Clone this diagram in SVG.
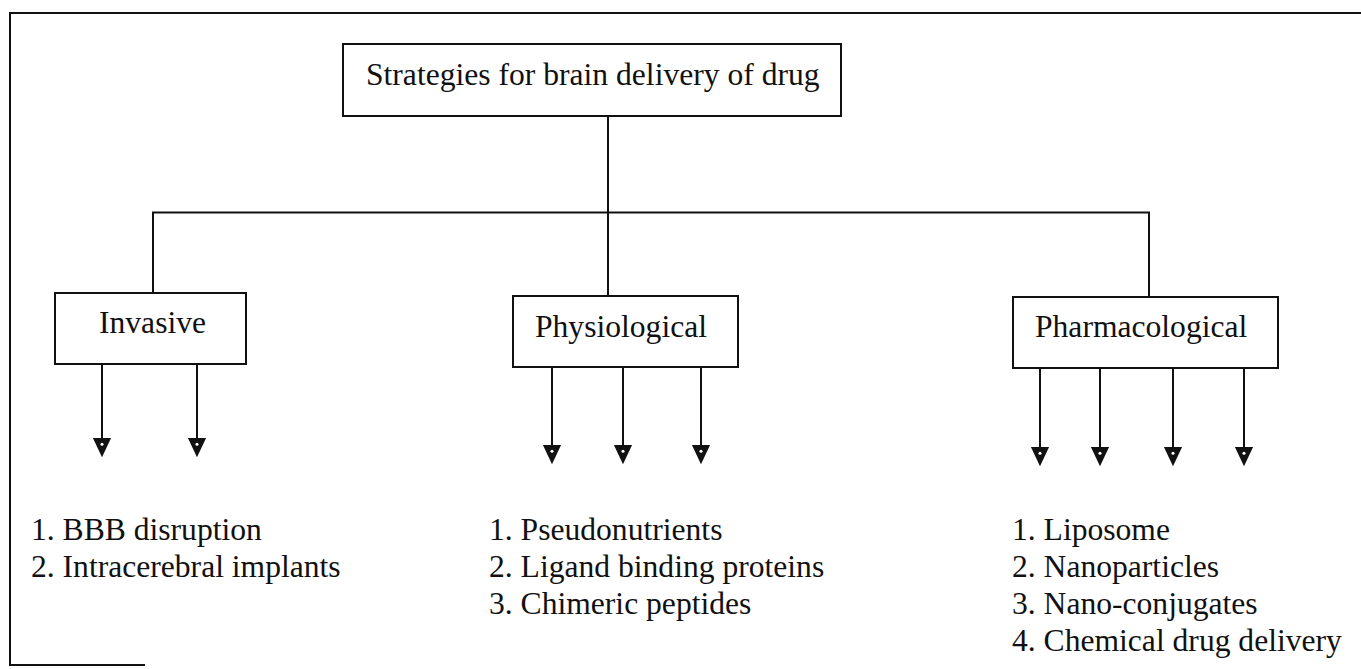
<svg xmlns="http://www.w3.org/2000/svg" width="1361" height="669" viewBox="0 0 1361 669">
<style>
  .frame{fill:none;stroke:#111;stroke-width:2}
  .box{fill:#fff;stroke:#111;stroke-width:2}
  .ln{fill:none;stroke:#111;stroke-width:2}
  .t{font-family:"Liberation Serif","Times New Roman",serif;font-size:31.6px;fill:#111}
</style>
<defs>
  <marker id="arr" markerUnits="userSpaceOnUse" markerWidth="22" markerHeight="22" refX="0" refY="0" viewBox="-1 -11 23 22" orient="auto" overflow="visible">
    <path d="M0,-9.5 L20,0 L0,9.5 Z" fill="#111"/>
    <circle cx="6.5" cy="0" r="1.6" fill="#fff"/>
  </marker>
</defs>
<rect x="0" y="0" width="1361" height="669" fill="#fff"/>
<g id="frame">
  <path class="frame" d="M1361,13 L10,13 L10,665 L145,665"/>
</g>
<g id="connectors">
  <path class="ln" d="M608,116 L608,212.5"/>
  <path class="ln" d="M153,293 L153,212.5 L1149,212.5 L1149,297"/>
  <path class="ln" d="M608,212.5 L608,296"/>
  <path class="ln" marker-end="url(#arr)" d="M102,364 L102,438"/>
  <path class="ln" marker-end="url(#arr)" d="M197,364 L197,438"/>
  <path class="ln" marker-end="url(#arr)" d="M552,367 L552,445"/>
  <path class="ln" marker-end="url(#arr)" d="M623,367 L623,445"/>
  <path class="ln" marker-end="url(#arr)" d="M701,367 L701,445"/>
  <path class="ln" marker-end="url(#arr)" d="M1040,368 L1040,447"/>
  <path class="ln" marker-end="url(#arr)" d="M1100,368 L1100,447"/>
  <path class="ln" marker-end="url(#arr)" d="M1173,368 L1173,447"/>
  <path class="ln" marker-end="url(#arr)" d="M1244,368 L1244,447"/>
</g>
<g id="root">
  <rect class="box" x="343" y="44" width="498" height="72"/>
  <text class="t" x="366" y="85">Strategies for brain delivery of drug</text>
</g>
<g id="invasive">
  <rect class="box" x="55" y="293" width="191" height="71"/>
  <text class="t" x="99" y="333">Invasive</text>
</g>
<g id="physiological">
  <rect class="box" x="513" y="296" width="225" height="71"/>
  <text class="t" x="535" y="337">Physiological</text>
</g>
<g id="pharmacological">
  <rect class="box" x="1013" y="297" width="265" height="71"/>
  <text class="t" x="1035" y="337">Pharmacological</text>
</g>
<g id="invasive-list">
  <text class="t" x="31" y="540">1. BBB disruption</text>
  <text class="t" x="31" y="577">2. Intracerebral implants</text>
</g>
<g id="physiological-list">
  <text class="t" x="489" y="540">1. Pseudonutrients</text>
  <text class="t" x="489" y="577">2. Ligand binding proteins</text>
  <text class="t" x="489" y="614">3. Chimeric peptides</text>
</g>
<g id="pharmacological-list">
  <text class="t" x="1012" y="540">1. Liposome</text>
  <text class="t" x="1012" y="577">2. Nanoparticles</text>
  <text class="t" x="1012" y="614">3. Nano-conjugates</text>
  <text class="t" x="1012" y="651">4. Chemical drug delivery</text>
</g>
</svg>
